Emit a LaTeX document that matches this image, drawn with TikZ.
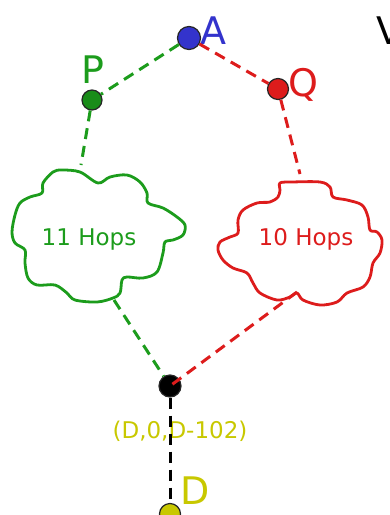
\documentclass[tikz,border=0pt]{standalone}
\usepackage{fontspec}
\setmainfont{DejaVu Sans}
\definecolor{pathgreen}{HTML}{1C9C1C}
\definecolor{pathred}{HTML}{DD1C1C}
\definecolor{routerblue}{HTML}{3333CC}
\definecolor{destyellow}{HTML}{C8C800}
\tikzset{
  router/.style={circle, draw=black!85, line width=1.2pt, inner sep=0pt, minimum size=#1},
  hopline/.style={dash pattern=on 11pt off 7pt, line width=3pt},
  cloudline/.style={line width=2.8pt, line join=round},
  biglabel/.style={font=\fontsize{38}{42}\selectfont, inner sep=0pt},
  hoplabel/.style={font=\fontsize{23}{27}\selectfont, inner sep=0pt},
}
\begin{document}
\begin{tikzpicture}[x=1pt,y=-1pt]
\useasboundingbox (0,0) rectangle (390,515);

% the two clouds of intermediate hops
\draw[cloudline, pathgreen] plot[smooth cycle, tension=0.55] coordinates {
  (62,170) (80,172) (98,183) (110,177) (127,175) (140,182) (147,193) (148,203)
  (163,208) (177,217) (185,225) (183,235) (173,240) (165,242) (163,253) (157,272)
  (143,278) (127,277) (122,280) (120,293) (113,298) (97,302) (75,300) (67,293)
  (55,285) (37,285) (28,278) (25,263) (25,250) (15,243) (12,232) (15,215)
  (20,203) (30,197) (42,193) (43,183) (53,172)};
\draw[cloudline, pathred] plot[smooth cycle, tension=0.55] coordinates {
  (280,183) (292,182) (320,182) (330,187) (333,197) (347,200) (362,205) (368,217)
  (370,230) (377,232) (382,240) (380,253) (373,263) (370,277) (363,287) (347,293)
  (337,302) (320,305) (303,300) (297,293) (290,297) (277,300) (260,293) (253,283)
  (247,273) (233,268) (223,260) (218,250) (220,242) (230,237) (238,233) (238,220)
  (243,210) (257,203) (270,202) (278,197) (280,190)};
\node[hoplabel, pathgreen, anchor=base] (hopsP) at (89,245) {11 Hops};
\node[hoplabel, pathred, anchor=base] (hopsQ) at (306,245) {10 Hops};

% points where the paths meet the clouds
\coordinate (gIn) at (81,165);
\coordinate (gOut) at (114,300);
\coordinate (rIn) at (300,174);
\coordinate (rOut) at (297,292);

% routers
\node[router=23pt, fill=routerblue] (A) at (189,38) {};
\node[router=20pt, fill=pathgreen!90!black] (P) at (92,100) {};
\node[router=21pt, fill=pathred] (Q) at (278,89) {};
\node[router=22pt, fill=black] (X) at (170,386) {};
\node[router=21pt, fill=destyellow] (D) at (170,514) {};

% labels
\node[biglabel, routerblue, anchor=base west] (labA) at (200,44) {A};
\node[biglabel, pathgreen, anchor=base west] (labP) at (81,83) {P};
\node[biglabel, pathred, anchor=base west] (labQ) at (288,96) {Q};
\node[biglabel, destyellow, anchor=base west] (labD) at (180,504) {D};
\node[biglabel, black, anchor=base west] (labV) at (376,44) {V};
\node[hoplabel, destyellow, anchor=base] (tuple) at (180,438) {(D,0,D-102)};

% paths
\draw[hopline, pathgreen] (A) -- (P);
\draw[hopline, pathgreen] (P) -- (gIn);
\draw[hopline, pathgreen] (gOut) -- (X);
\draw[hopline, pathred] (A) -- (Q);
\draw[hopline, pathred] (Q) -- (rIn);
\draw[hopline, pathred] (rOut) -- (X.center);
\draw[hopline, black] (X) -- (D);
\end{tikzpicture}
\end{document}
